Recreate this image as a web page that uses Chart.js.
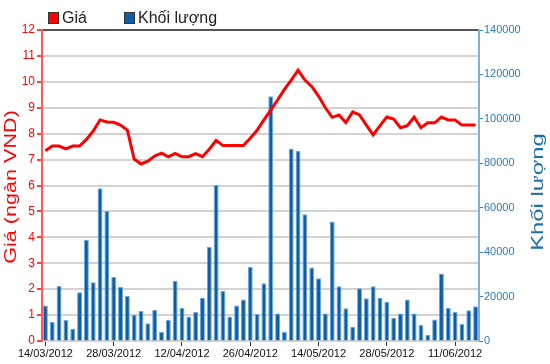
<!DOCTYPE html>
<html>
<head>
<meta charset="utf-8">
<script src="https://cdn.jsdelivr.net/npm/chart.js@4/dist/chart.umd.min.js"></script>
<style>
  html, body { margin: 0; padding: 0; background: #fff; }
  #wrap { width: 550px; height: 364px; }
</style>
</head>
<body>
<div id="wrap"><canvas id="stockChart" width="550" height="364"></canvas></div>
<script>
  // trading days (HOSE), one label shown every 10 sessions
  const dates = [
    '14/03/2012', '15/03/2012', '16/03/2012', '19/03/2012', '20/03/2012', '21/03/2012', '22/03/2012', '23/03/2012',
    '26/03/2012', '27/03/2012', '28/03/2012', '29/03/2012', '30/03/2012', '03/04/2012', '04/04/2012', '05/04/2012',
    '06/04/2012', '09/04/2012', '10/04/2012', '11/04/2012', '12/04/2012', '13/04/2012', '16/04/2012', '17/04/2012',
    '18/04/2012', '19/04/2012', '20/04/2012', '23/04/2012', '24/04/2012', '25/04/2012', '26/04/2012', '27/04/2012',
    '02/05/2012', '03/05/2012', '04/05/2012', '07/05/2012', '08/05/2012', '09/05/2012', '10/05/2012', '11/05/2012',
    '14/05/2012', '15/05/2012', '16/05/2012', '17/05/2012', '18/05/2012', '21/05/2012', '22/05/2012', '23/05/2012',
    '24/05/2012', '25/05/2012', '28/05/2012', '29/05/2012', '30/05/2012', '31/05/2012', '01/06/2012', '04/06/2012',
    '05/06/2012', '06/06/2012', '07/06/2012', '08/06/2012', '11/06/2012', '12/06/2012', '13/06/2012', '14/06/2012'
  ];

  // Giá (ngàn VND)
  const price = [
    7.34, 7.52, 7.52, 7.41, 7.52, 7.52, 7.78, 8.10, 8.53, 8.45, 8.44, 8.33, 8.14, 7.02, 6.83, 6.94,
    7.14, 7.25, 7.11, 7.24, 7.11, 7.11, 7.23, 7.11, 7.40, 7.74, 7.54, 7.54, 7.54, 7.54, 7.82, 8.13,
    8.53, 8.91, 9.30, 9.71, 10.07, 10.45, 10.07, 9.82, 9.45, 9.00, 8.63, 8.72, 8.43, 8.84, 8.72, 8.33,
    7.95, 8.31, 8.64, 8.56, 8.23, 8.31, 8.64, 8.23, 8.42, 8.42, 8.64, 8.53, 8.53, 8.33, 8.33, 8.33
  ];

  // Khối lượng
  const volume = [
    16000, 8500, 24900, 9500, 5500, 22000, 45500, 26500, 68800, 58500, 28800, 24300, 20400, 11800, 13500, 8000,
    14000, 4000, 9500, 27100, 14800, 11000, 13000, 19500, 42300, 70200, 22600, 11000, 16000, 18700, 33300, 12100,
    26000, 110200, 12400, 4000, 86700, 85600, 57100, 33100, 28200, 12400, 53800, 24700, 14700, 6400, 23700, 19200,
    24700, 19500, 17700, 10300, 12400, 18700, 12400, 7200, 2800, 9700, 30400, 14800, 13200, 7600, 13800, 15600
  ];

  const priceMax = 12, priceStep = 1;
  const volumeMax = 140000, volumeStep = 20000;
  const labelEvery = 10;

  const RED = '#ff0000';
  const BLUE = '#0b5ea8';
  const AXIS_BLUE = '#2f7bb5';

  // legend + axis titles, drawn on the canvas
  const extraText = {
    id: 'extraText',
    afterDraw(chart) {
      const ctx = chart.ctx;
      ctx.save();
      ctx.font = '16px "Liberation Sans", Arial, sans-serif';
      ctx.textBaseline = 'middle';
      ctx.textAlign = 'left';
      let x = 48;
      chart.data.datasets.forEach(ds => {
        ctx.fillStyle = ds.legendColor;
        ctx.fillRect(x, 12, 11, 12);
        ctx.strokeStyle = '#333';
        ctx.lineWidth = 1;
        ctx.strokeRect(x + 0.5, 12.5, 10, 11);
        ctx.fillStyle = '#222';
        ctx.fillText(ds.label, x + 14, 19);
        x += 76;
      });

      const drawTitle = (text, cx, cy, color, size, stretch) => {
        ctx.save();
        ctx.translate(cx, cy);
        ctx.rotate(-Math.PI / 2);
        ctx.scale(stretch, 1);
        ctx.font = size + 'px "Liberation Sans", Arial, sans-serif';
        ctx.fillStyle = color;
        ctx.textAlign = 'center';
        ctx.textBaseline = 'middle';
        ctx.fillText(text, 0, 0);
        ctx.restore();
      };
      drawTitle('Giá (ngàn VND)', 12, 187, RED, 16, 1.35);
      drawTitle('Khối lượng', 538, 192, '#1f6fa8', 17, 1.4);
      ctx.restore();
    }
  };

  const ctx = document.getElementById('stockChart').getContext('2d');
  const stockChart = new Chart(ctx, {
    data: {
      labels: dates,
      datasets: [
        {
          type: 'line',
          label: 'Giá',
          data: price,
          yAxisID: 'y',
          borderColor: RED,
          backgroundColor: RED,
          legendColor: RED,
          borderWidth: 3,
          pointRadius: 0,
          tension: 0,
          order: 0
        },
        {
          type: 'bar',
          label: 'Khối lượng',
          data: volume,
          yAxisID: 'y1',
          backgroundColor: BLUE,
          borderColor: '#6fa8dc',
          borderWidth: 1,
          legendColor: BLUE,
          categoryPercentage: 1,
          barPercentage: 0.72,
          order: 1
        }
      ]
    },
    options: {
      responsive: false,
      animation: false,
      layout: { padding: { top: 30, left: 0, right: 0, bottom: 0 } },
      plugins: {
        legend: { display: false },
        tooltip: { enabled: false }
      },
      scales: {
        x: {
          offset: true,
          grid: {
            offset: false,
            drawOnChartArea: false,
            tickLength: 5,
            tickColor: c => (c.index % labelEvery === 0 ? '#333' : 'rgba(0,0,0,0)')
          },
          border: { display: false },
          ticks: {
            autoSkip: false,
            maxRotation: 0,
            padding: 1,
            color: '#111',
            font: { family: '"Liberation Sans", Arial, sans-serif', size: 11 },
            callback: function (value, index) {
              return index % labelEvery === 0 ? this.getLabelForValue(value) : '';
            }
          },
          afterFit: s => { s.height = 23; }
        },
        y: {
          position: 'left',
          min: 0,
          max: priceMax,
          ticks: {
            stepSize: priceStep,
            color: RED,
            padding: 2,
            font: { family: '"Liberation Sans", Arial, sans-serif', size: 12 }
          },
          grid: {
            color: c => (c.tick && c.tick.value === priceMax ? '#555' : '#d3d3d3'),
            lineWidth: 2,
            tickLength: 5,
            tickColor: '#ff4040'
          },
          border: { color: '#ff5a5a', width: 2 },
          afterFit: s => { s.width = 42; }
        },
        y1: {
          position: 'right',
          min: 0,
          max: volumeMax,
          ticks: {
            stepSize: volumeStep,
            color: AXIS_BLUE,
            padding: 1,
            font: { family: '"Liberation Sans", Arial, sans-serif', size: 11 },
            callback: v => String(v)
          },
          grid: {
            drawOnChartArea: false,
            tickLength: 4,
            tickColor: '#3d87c0'
          },
          border: { color: '#7fb0d8', width: 2 },
          afterFit: s => { s.width = 71; }
        }
      }
    },
    plugins: [extraText]
  });
</script>
</body>
</html>
